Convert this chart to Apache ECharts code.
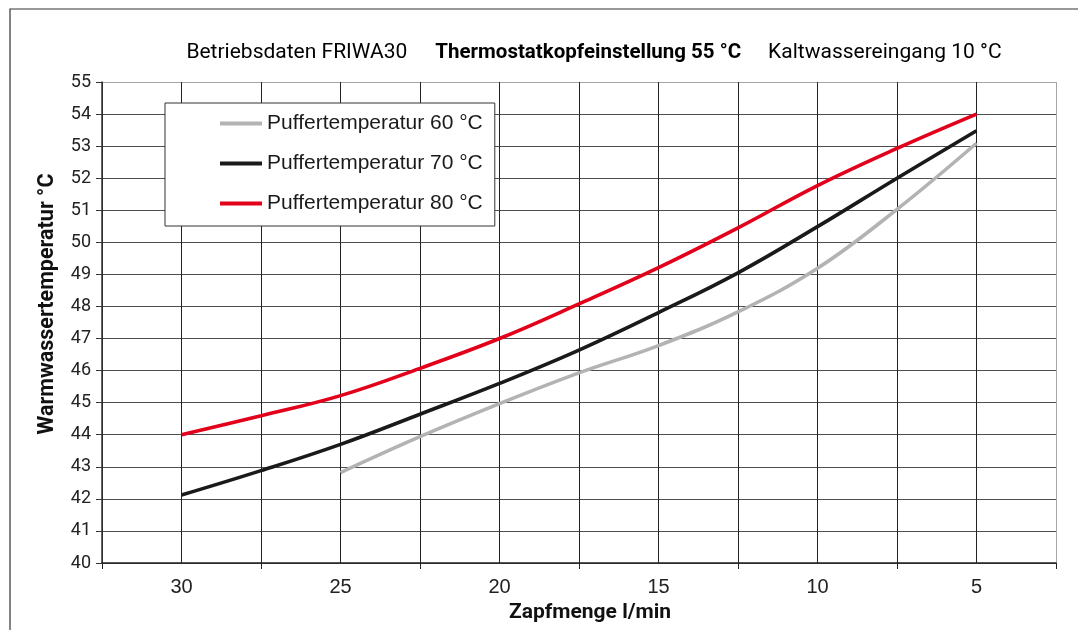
<!DOCTYPE html>
<html>
<head>
<meta charset="utf-8">
<script src="https://cdn.jsdelivr.net/npm/echarts@6/dist/echarts.min.js"></script>
<style>
html,body{margin:0;padding:0;background:#fff;}
#chart{width:1078px;height:630px;}
</style>
</head>
<body>
<div id="chart"></div>
<script>
// Zapfmenge l/min (x positions of read values)
const flowRates = [30, 27.5, 25, 22.5, 20, 17.5, 15, 12.5, 10, 7.5, 5];
// Warmwassertemperatur °C per Puffertemperatur
const temp60 = [null, null, 42.82, 43.94, 44.97, 45.93, 46.78, 47.83, 49.19, 51.03, 53.09];
const temp70 = [42.12, 42.88, 43.70, 44.64, 45.60, 46.64, 47.81, 49.05, 50.49, 52.00, 53.48];
const temp80 = [44.00, 44.59, 45.22, 46.07, 47.00, 48.08, 49.21, 50.45, 51.77, 52.93, 54.00];
const seriesNames = ['Puffertemperatur 60 °C', 'Puffertemperatur 70 °C', 'Puffertemperatur 80 °C'];
const xLabelValues = [30, 25, 20, 15, 10, 5];

function pairs(vals) {
  const out = [];
  flowRates.forEach((x, i) => { if (vals[i] !== null) out.push([x, vals[i]]); });
  return out;
}

const chart = echarts.init(document.getElementById('chart'), null, {renderer: 'canvas'});

const ySplitColors = [];
for (let v = 40; v <= 55; v++) ySplitColors.push(v === 55 ? '#a6a6a6' : '#4d4d4d');
const xSplitColors = [];
for (let i = 0; i <= 12; i++) xSplitColors.push(i === 0 ? '#a6a6a6' : '#222222');

const option = {
  animation: false,
  backgroundColor: '#ffffff',
  grid: {left: 102, right: 22, top: 82, bottom: 67, containLabel: false},
  legend: {
    data: seriesNames,
    orient: 'vertical',
    left: 165,
    top: 103,
    padding: [10, 12, 12, 55],
    icon: 'rect',
    itemWidth: 42,
    itemHeight: 4,
    itemGap: 19,
    backgroundColor: '#ffffff',
    borderColor: '#333333',
    borderWidth: 1,
    borderRadius: 0,
    textStyle: {fontFamily: 'Liberation Sans', fontSize: 21, lineHeight: 21, color: '#1a1a1a'}
  },
  xAxis: [{
    type: 'value',
    inverse: true,
    min: 2.5,
    max: 32.5,
    interval: 2.5,
    axisLine: {show: true, onZero: false, lineStyle: {color: '#222222', width: 1.5}},
    axisTick: {show: false},
    axisLabel: {
      customValues: xLabelValues,
      margin: 14,
      fontFamily: 'Liberation Sans',
      fontSize: 20,
      color: '#222222',
      formatter: v => String(v)
    },
    splitLine: {show: true, lineStyle: {color: xSplitColors, width: 1}}
  }, {
    type: 'value',
    position: 'bottom',
    inverse: true,
    min: 2.5,
    max: 32.5,
    interval: 5,
    axisLine: {show: false, onZero: false},
    axisTick: {show: true, length: 6, lineStyle: {color: '#222222'}},
    axisLabel: {show: false},
    splitLine: {show: false}
  }],
  yAxis: {
    type: 'value',
    min: 40,
    max: 55,
    interval: 1,
    axisLine: {show: true, lineStyle: {color: '#333333', width: 1.5}},
    axisTick: {show: true, length: 6, lineStyle: {color: '#333333'}},
    axisLabel: {margin: 11, fontFamily: 'Roboto', fontSize: 18, color: '#222222'},
    splitLine: {show: true, lineStyle: {color: ySplitColors, width: 1.2}}
  },
  graphic: [
    {type: 'rect', silent: true, z: -1, shape: {x: 10, y: 9, width: 1100, height: 700},
      style: {fill: 'none', stroke: '#333333', lineWidth: 1.2}},
    {type: 'text', x: 594, y: 53, silent: true,
      style: {
        text: '{n|Betriebsdaten FRIWA30}{b|Thermostatkopfeinstellung 55 °C}{n|Kaltwassereingang 10 °C}',
        align: 'center', verticalAlign: 'middle',
        rich: {
          n: {fontFamily: 'Roboto', fontSize: 21, color: '#222222'},
          b: {fontFamily: 'Roboto', fontSize: 20.5, fontWeight: 'bold', color: '#111111', padding: [0, 27, 0, 28]}
        }
      }},
    {type: 'text', x: 590, y: 613, silent: true,
      style: {text: 'Zapfmenge l/min', align: 'center', verticalAlign: 'middle',
        fontFamily: 'Roboto', fontSize: 21, fontWeight: 'bold', fill: '#111111'}},
    {type: 'text', x: 48, y: 304, rotation: Math.PI / 2, silent: true,
      style: {text: 'Warmwassertemperatur °C', align: 'center', verticalAlign: 'middle',
        fontFamily: 'Roboto', fontSize: 21.5, fontWeight: 'bold', fill: '#111111'}}
  ],
  series: [
    {name: seriesNames[0], type: 'line', data: pairs(temp60), smooth: 0.4, symbol: 'none',
      lineStyle: {color: '#b3b3b3', width: 3.6}, itemStyle: {color: '#b3b3b3'}, z: 3},
    {name: seriesNames[1], type: 'line', data: pairs(temp70), smooth: 0.4, symbol: 'none',
      lineStyle: {color: '#1a1a1a', width: 3.6}, itemStyle: {color: '#1a1a1a'}, z: 3},
    {name: seriesNames[2], type: 'line', data: pairs(temp80), smooth: 0.4, symbol: 'none',
      lineStyle: {color: '#e2001a', width: 3.6}, itemStyle: {color: '#e2001a'}, z: 3}
  ]
};
chart.setOption(option);
</script>
</body>
</html>
